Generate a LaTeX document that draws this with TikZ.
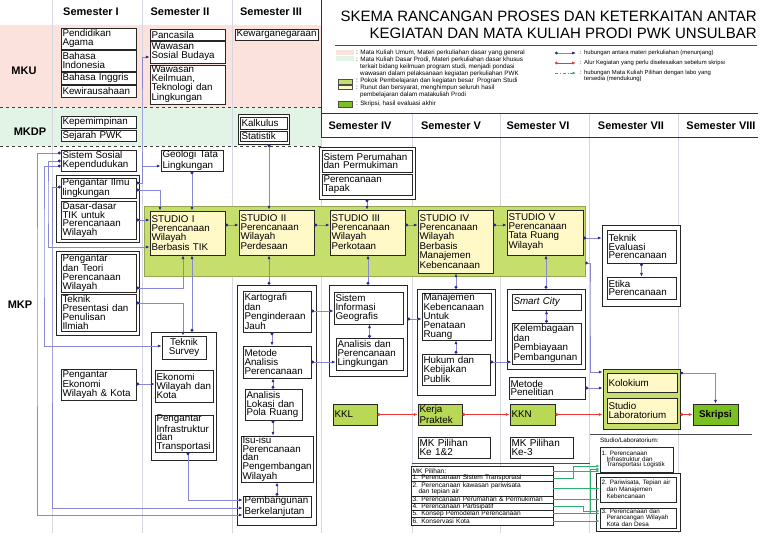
\documentclass[tikz,border=0pt]{standalone}
\usepackage{fontspec}
\setmainfont{Liberation Sans}
\usetikzlibrary{arrows.meta}
\definecolor{pinkbg}{RGB}{252,226,221}
\definecolor{mintbg}{RGB}{226,244,229}
\definecolor{bandg}{RGB}{197,222,108}
\definecolor{cream}{RGB}{255,249,200}
\definecolor{kkg}{RGB}{184,216,86}
\definecolor{skg}{RGB}{122,192,32}
\definecolor{lav}{RGB}{135,135,210}
\definecolor{navy}{RGB}{40,40,150}
\definecolor{redl}{RGB}{235,55,55}
\definecolor{grl}{RGB}{45,175,110}
\definecolor{gridc}{RGB}{214,214,224}
\newcommand\bxfont{\fontsize{9.8}{8.9}\selectfont}
\newcommand\lsfont{\fontsize{6.6}{6.3}\selectfont}
\newcommand\lbfont{\fontsize{6.3}{5.8}\selectfont}
\newcommand\lgfont{\fontsize{6.3}{4.9}\selectfont}
\newcommand\lgrfont{\fontsize{5.9}{4.9}\selectfont}
\newcommand\hdfont{\fontsize{11}{11}\selectfont\bfseries}
\newcommand\mkbox[7][]{%
 \pgfmathsetmacro\mkW{#5-#3}%
 \pgfmathsetmacro\mkH{#6-#4}%
 \pgfmathsetmacro\mkT{#5-#3-3}%
 \pgfmathsetmacro\mkX{(#3+#5)/2}%
 \pgfmathsetmacro\mkY{(#4+#6)/2}%
 \node[bx,minimum width=\mkW pt,minimum height=\mkH pt,text width=\mkT pt,#1] (#2) at (\mkX,\mkY) {#7};}
\begin{document}
\begin{tikzpicture}[x=1pt,y=-1pt,
 bx/.style={draw=black!85,line width=0.7pt,fill=white,inner xsep=1.2pt,inner ysep=0pt,align=left,font=\bxfont},
 hdr/.style={font=\hdfont,inner sep=0pt},
 lg/.style={font=\lgfont,inner sep=0pt,align=left},
 lgr/.style={font=\lgrfont,inner sep=0pt,align=left},
 bl/.style={draw=lav,line width=0.7pt,arrows={Circle[length=2.8pt,color=navy]-Latex[length=3.8pt,width=3pt,color=navy]}},
 blo/.style={draw=lav,line width=0.7pt,arrows={-Latex[length=3.8pt,width=3pt,color=navy]}},
 rd/.style={draw=redl,line width=0.8pt,arrows={Circle[length=2.8pt]-Latex[length=3.8pt,width=3pt]}},
 gl/.style={draw=grl,line width=0.6pt,arrows={-Latex[length=3.4pt,width=2.6pt]}},
 grid/.style={draw=gridc,line width=0.6pt}]
\fill[white] (0,0) rectangle (768,543);
\useasboundingbox (0,0) rectangle (768,543);
% bands
\fill[pinkbg] (0,25) rectangle (321,107);
\fill[mintbg] (0,107) rectangle (321,146);
\draw[dashed,line width=0.6pt,black!75] (0,107) -- (321,107);
\draw[dashed,line width=0.6pt,black!75] (0,146) -- (321,146);
% grid
\foreach \gx in {52,142,232} {\draw[grid] (\gx,0) -- (\gx,533);}
\draw[grid] (321,137) -- (321,533);
\foreach \gx in {412,500,589,678} {\draw[grid] (\gx,113) -- (\gx,533);}
\draw[black!80,line width=0.8pt] (321,0) -- (321,137);
\draw[black!80,line width=0.9pt] (321,113) -- (758,113);
\draw[black!80,line width=0.9pt] (321,137) -- (758,137);
\draw[black!70,line width=0.8pt] (412,463) -- (590,463);
\draw[black!70,line width=0.8pt] (590,434) -- (752,434);
% headers
\node[hdr] (h1) at (91,12) {Semester I};
\node[hdr] (h2) at (180,12) {Semester II};
\node[hdr] (h3) at (271,12) {Semester III};
\node[hdr] (h4) at (360,126) {Semester IV};
\node[hdr] (h5) at (451,126) {Semester V};
\node[hdr] (h6) at (538,126) {Semester VI};
\node[hdr] (h7) at (631,126) {Semester VII};
\node[hdr] (h8) at (721,126) {Semester VIII};
\node[hdr] (lmku) at (24,71) {MKU};
\node[hdr] (lmkdp) at (30,132) {MKDP};
\node[hdr] (lmkp) at (20,305) {MKP};
% title
\node[anchor=east,inner sep=0pt,font=\fontsize{15}{15}\selectfont] (t1) at (757,16) {SKEMA RANCANGAN PROSES DAN KETERKAITAN ANTAR};
\node[anchor=east,inner sep=0pt,font=\fontsize{15}{15}\selectfont] (t2) at (757,33) {KEGIATAN DAN MATA KULIAH PRODI PWK UNSULBAR};
\draw[black!70,line width=1pt] (335,46) -- (757,46);
% legend
\fill[pinkbg] (336,50) rectangle (354,55);
\fill[mintbg] (336,56) rectangle (354,61);
\node[lg,anchor=north west] (lg1) at (356,50) {: Mata Kuliah Umum, Materi perkuliahan dasar yang general\\: Mata Kuliah Dasar Prodi, Materi perkuliahan dasar khusus\\\hspace*{4pt}terkait bidang keilmuan program studi, menjadi pondasi\\\hspace*{4pt}wawasan dalam pelaksanaan kegiatan perkuliahan PWK};
\draw[fill=bandg,draw=black!70,line width=0.5pt] (338,79) rectangle (352,84);
\draw[fill=cream,draw=black!70,line width=0.5pt] (338,85) rectangle (352,89);
\draw[fill=skg,draw=black!70,line width=0.5pt] (338,101) rectangle (352,107);
\node[lg,anchor=west] (lg2) at (356,81) {: Pokok Pembelajaran dan kegiatan besar\ \ Program Studi};
\node[lg,anchor=north west] (lg3) at (356,85) {: Runut dan bersyarat, menghimpun seluruh hasil\\\hspace*{4pt}pembelajaran dalam matakuliah Prodi};
\node[lg,anchor=west] (lg4) at (356,104) {: Skripsi, hasil evaluasi akhir};
\coordinate (la1) at (555,53); \coordinate (la2) at (576,53);
\coordinate (lb1) at (555,63); \coordinate (lb2) at (576,63);
\coordinate (lc1) at (555,73); \coordinate (lc2) at (576,73);
\draw[bl] (la1) -- (la2);
\draw[rd] (lb1) -- (lb2);
\draw[gl,dash dot] (lc1) -- (lc2);
\node[lgr,anchor=west] (lg5) at (580,53) {: hubungan antara materi perkuliahan (menunjang)};
\node[lgr,anchor=west] (lg6) at (580,63) {: Alur Kegiatan yang perlu diselesaikan sebelum skripsi};
\node[lgr,anchor=north west] (lg7) at (580,70) {: hubungan Mata Kuliah Pilihan dengan labo yang\\\hspace*{4pt}tersedia (mendukung)};
% MKU
\mkbox{pa}{61}{28}{136}{49}{Pendidikan\\Agama}
\mkbox{bi}{61}{50}{136}{71}{Bahasa\\Indonesia}
\mkbox{bing}{61}{72}{136}{84}{Bahasa Inggris}
\mkbox{kw}{61}{85}{136}{97}{Kewirausahaan}
\mkbox{pc}{150}{29}{225}{40}{Pancasila}
\mkbox{wsb}{150}{41}{225}{63}{Wawasan\\Sosial Budaya}
\mkbox{wk}{150}{65}{225}{104}{Wawasan\\Keilmuan,\\Teknologi dan\\Lingkungan}
\mkbox{kwn}{235}{29}{318}{40}{Kewarganegaraan}
% MKDP
\mkbox{kp}{61}{116}{136}{128}{Kepemimpinan}
\mkbox{sj}{61}{130}{136}{141}{Sejarah PWK}
\mkbox{gks}{238}{114}{289}{144}{}
\mkbox{kal}{240}{117}{287}{129}{Kalkulus}
\mkbox{stat}{240}{131}{287}{141}{Statistik}
% MKP semester I
\mkbox{ssk}{61}{150}{136}{171}{Sistem Sosial\\Kependudukan}
\mkbox{g1}{56}{175}{139}{242}{}
\mkbox{pil}{61}{178}{136}{198}{Pengantar Ilmu\\lingkungan}
\mkbox{tik}{61}{201}{136}{239}{Dasar-dasar\\TIK untuk\\Perencanaan\\Wilayah}
\mkbox{g2}{56}{251}{139}{335}{}
\mkbox{ptp}{61}{254}{136}{292}{Pengantar\\dan Teori\\Perencanaan\\Wilayah}
\mkbox{tps}{61}{294}{136}{331}{Teknik\\Presentasi dan\\Penulisan\\Ilmiah}
\mkbox{pe}{61}{369}{136}{400}{Pengantar\\Ekonomi\\Wilayah \& Kota}
% band + studios
\mkbox[fill=bandg,draw=bandg!75!black,line width=0.4pt]{band}{144}{206}{585}{276}{}
\mkbox[fill=cream]{s1}{150}{211}{225}{255}{STUDIO I\\Perencanaan\\Wilayah\\Berbasis TIK}
\mkbox[fill=cream]{s2}{239}{210}{314}{255}{STUDIO II\\Perencanaan\\Wilayah\\Perdesaan}
\mkbox[fill=cream]{s3}{330}{210}{405}{255}{STUDIO III\\Perencanaan\\Wilayah\\Perkotaan}
\mkbox[fill=cream]{s4}{418}{210}{493}{273}{STUDIO IV\\Perencanaan\\Wilayah\\Berbasis\\Manajemen\\Kebencanaan}
\mkbox[fill=cream]{s5}{507}{210}{583}{255}{STUDIO V\\Perencanaan\\Tata Ruang\\Wilayah}
% semester II
\mkbox{geo}{161}{150}{223}{171}{Geologi Tata\\Lingkungan}
\mkbox{g3}{151}{332}{216}{460}{}
\mkbox[align=center]{ts}{162}{336}{206}{359}{Teknik\\Survey}
\mkbox{ewk}{155}{370}{213}{402}{Ekonomi\\Wilayah dan\\Kota}
\mkbox{pit}{155}{415}{213}{452}{Pengantar\\Infrastruktur\\dan\\Transportasi}
% semester III
\mkbox{g4}{237}{285}{316}{525}{}
\mkbox{kpj}{243}{291}{311}{332}{Kartografi\\dan\\Penginderaan\\Jauh}
\mkbox{map}{243}{346}{311}{378}{Metode\\Analisis\\Perencanaan}
\mkbox{alp}{245}{389}{302}{420}{Analisis\\Lokasi dan\\Pola Ruang}
\mkbox{isu}{241}{436}{313}{482}{Isu-isu\\Perencanaan\\dan\\Pengembangan\\Wilayah}
\mkbox{pb}{243}{496}{311}{517}{Pembangunan\\Berkelanjutan}
% semester IV
\mkbox{g5}{319}{147}{415}{199}{}
\mkbox{spp}{322}{150}{412}{172}{Sistem Perumahan\\dan Permukiman}
\mkbox{pt}{322}{174}{412}{195}{Perencanaan\\Tapak}
\mkbox{g6}{329}{285}{407}{376}{}
\mkbox{sig}{334}{292}{403}{324}{Sistem\\Informasi\\Geografis}
\mkbox{apl}{336}{338}{403}{370}{Analisis dan\\Perencanaan\\Lingkungan}
\mkbox[fill=kkg]{kkl}{333}{404}{377}{425}{KKL}
% semester V
\mkbox{g7}{417}{289}{495}{395}{}
\mkbox{mk}{422}{293}{491}{340}{Manajemen\\Kebencanaan\\Untuk\\Penataan\\Ruang}
\mkbox{hkp}{422}{354}{490}{385}{Hukum dan\\Kebijakan\\Publik}
\mkbox[fill=kkg]{kp2}{418}{404}{462}{425}{Kerja\\Praktek}
\mkbox[font=\fontsize{10}{9}\selectfont]{mkp12}{418}{437}{490}{458}{MK Pilihan\\Ke 1\&2}
% semester VI
\mkbox{g8}{507}{289}{585}{369}{}
\mkbox{sc}{512}{294}{581}{310}{\textit{Smart City}}
\mkbox{kpp}{512}{323}{581}{364}{Kelembagaan\\dan\\Pembiayaan\\Pembangunan}
\mkbox{mp}{509}{377}{585}{399}{Metode\\Penelitian}
\mkbox[fill=kkg]{kkn}{510}{404}{555}{425}{KKN}
\mkbox[font=\fontsize{10}{9}\selectfont]{mkp3}{510}{437}{573}{458}{MK Pilihan\\Ke-3}
% semester VII / VIII
\mkbox{g9}{602}{225}{680}{306}{}
\mkbox{tep}{607}{230}{676}{263}{Teknik\\Evaluasi\\Perencanaan}
\mkbox{ep}{607}{277}{676}{299}{Etika\\Perencanaan}
\mkbox[fill=bandg,line width=0.8pt]{gk}{603}{369}{680}{429}{}
\mkbox[fill=cream]{kol}{607}{373}{677}{392}{Kolokium}
\mkbox[fill=cream]{sl}{607}{398}{677}{423}{Studio\\Laboratorium}
\mkbox[fill=skg,align=center,font=\bxfont\bfseries]{skr}{693}{404}{738}{425}{Skripsi}
% labs
\node[font=\lbfont,anchor=west,inner sep=0pt] (labt) at (600,440) {Studio/Laboratorium:};
\mkbox[font=\lbfont,line width=0.6pt]{lab1}{600}{447}{673}{472}{1. Perencanaan\\\hspace*{5pt}Infrastruktur dan\\\hspace*{5pt}Transportasi Logistik}
\mkbox[line width=0.6pt]{g10}{596}{473}{680}{531}{}
\mkbox[font=\lbfont,line width=0.6pt]{lab2}{600}{477}{676}{502}{2. Pariwisata, Tepian air\\\hspace*{5pt}dan Manajemen\\\hspace*{5pt}Kebencanaan}
\mkbox[font=\lbfont,line width=0.6pt]{lab3}{600}{508}{676}{528}{3. Perencanaan dan\\\hspace*{5pt}Perancangan Wilayah\\\hspace*{5pt}Kota dan Desa}
% MK pilihan list
\mkbox[line width=0.7pt]{mkpl}{411}{466}{553}{525}{}
\mkbox[draw=none,fill=none,font=\lsfont]{mkh}{411}{467}{553}{475}{MK Pilihan:}
\mkbox[font=\lsfont,line width=0.5pt]{m1}{411}{475}{553}{481}{1. Perencanaan Sistem Transportasi}
\mkbox[font=\lsfont,line width=0.5pt]{m2}{411}{481}{553}{496}{2. Perencanaan kawasan pariwisata\\\hspace*{6pt}dan tepian air}
\mkbox[font=\lsfont,line width=0.5pt]{m3}{411}{496}{553}{503}{3. Perencanaan Perumahan \& Permukiman}
\mkbox[font=\lsfont,line width=0.5pt]{m4}{411}{503}{553}{510}{4. Perencanaan Partisipatif}
\mkbox[font=\lsfont,line width=0.5pt]{m5}{411}{510}{553}{517}{5. Konsep Pemodelan Perencanaan}
\mkbox[font=\lsfont,line width=0.5pt]{m6}{411}{517}{553}{525}{6. Konservasi Kota}
% blue connectors
\coordinate (j1) at (142,166);
\draw[bl] (pil.east|-0,183) -| (142,120) |- (wsb.west|-0,57);
\draw[blo] (j1) -- (geo.west|-j1);
\draw[bl] (pil.east|-0,190) -| (160,0|-s1.north);
\draw[bl] (geo.south) -- (geo.south|-s1.north);
\draw[bl] (tik.east) -- (tik.east-|s1.west);
\draw[bl] (s1.east|-0,225) -- (s2.west|-0,225);
\draw[bl] (s2.east|-0,225) -- (s3.west|-0,225);
\draw[bl] (s3.east|-0,225) -- (s4.west|-0,225);
\draw[bl] (s4.east|-0,225) -- (s5.west|-0,225);
\draw[bl] (s5.east|-0,238) -- (g9.west|-0,238);
\draw[bl] (band.east|-0,263) -| (590,300) |- (gk.west|-0,372);
\draw[bl] (mp.east|-0,388) -- (gk.west|-0,388);
\draw[bl] (269,0|-gks.south) -- (269,0|-s2.north);
\draw[bl] (g5.south) -- (g5.south|-s3.north);
\draw[bl] (269,0|-g4.north) -- (269,0|-s2.south);
\draw[bl] (g6.north) -- (g6.north|-s3.south);
\draw[bl] (g7.north) -- (g7.north|-s4.south);
\draw[bl] (g8.north) -- (g8.north|-s5.south);
\draw[bl] (ptp.east|-0,288) -| (183,0|-s1.south);
\draw[bl] (tps.east|-0,303) -| (183,0|-ts.north);
\draw[bl] (192,0|-g3.north) -- (192,0|-s1.south);
\draw[bl] (ssk.west|-0,153) -| (37,300) |- (pb.west|-0,515);
\draw[bl] (pil.west|-0,187) -| (52,300) |- (pb.west|-0,508);
\draw[bl] (ssk.west|-0,161) -| (48,200) |- (s1.west|-0,247);
\draw[bl] (ssk.west|-0,166) -| (44,250) |- (ts.west|-0,346);
\draw[bl] (pe.east|-0,384) -- (ewk.west|-0,384);
\draw[bl] (188,0|-pit.south) |- (pb.west|-0,500);
\draw[bl] (kpj.east|-0,311) -- (sig.west|-0,311);
\draw[bl] (map.east|-0,362) -- (apl.west|-0,362);
\draw[bl] (272,0|-kpj.south) -- (272,0|-map.north);
\draw[bl] (273,0|-alp.north) -- (273,0|-map.south);
\draw[bl] (273,0|-alp.south) -- (273,0|-isu.north);
\draw[bl] (277,0|-pb.north) -- (277,0|-isu.south);
\draw[bl] (apl.north) -- (apl.north|-sig.south);
\draw[bl] (g6.east|-0,319) -- (mk.west|-0,319);
\draw[bl] (hkp.north) -- (hkp.north|-mk.south);
\draw[bl] (hkp.east|-0,362) -- (kpp.west|-0,362);
\draw[bl] (kpp.north) -- (kpp.north|-sc.south);
\draw[bl] (tep.south) -- (ep.north);
\draw[bl] (gk.east|-0,373) -| (skr.north);
% red connectors
\draw[rd] (kkl.east) -- (kp2.west);
\draw[rd] (kp2.east) -- (kkn.west);
\draw[rd] (kkn.east) -- (kkn.east-|gk.west);
\draw[rd] (gk.east|-skr.west) -- (skr.west);
% green connectors
\draw[gl] (mkh.east) -- (mkh.east-|lab1.west);
\draw[gl] (m1.east) -- ++(20,0) |- (lab1.west|-0,466);
\draw[gl] (m2.east) -- (m2.east-|lab2.west);
\draw[gl] (m3.east) -- (m3.east-|lab2.west);
\draw[gl] (m4.east) -- ++(30,0) |- (lab3.west|-0,511);
\draw[gl] (m5.east) -- ++(37,0) |- (lab1.west|-0,469);
\draw[gl] (m5.east) -- (m5.east-|lab3.west);
\draw[gl] (m6.east) -- (m6.east-|lab3.west);
\end{tikzpicture}
\end{document}
